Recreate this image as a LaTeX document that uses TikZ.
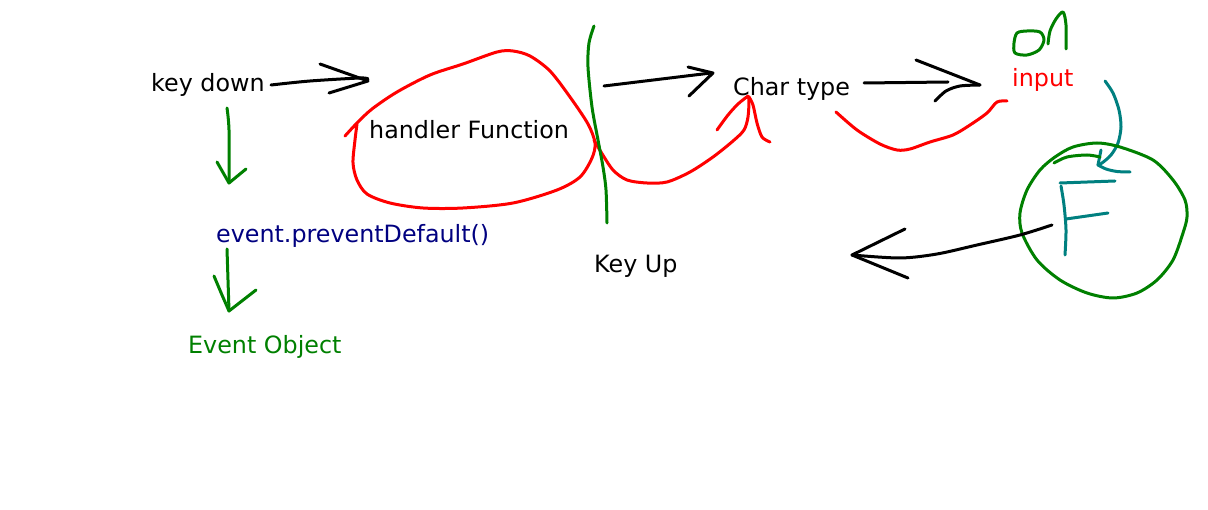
\documentclass[tikz,border=0pt]{standalone}
\usepackage{fontspec}
\setmainfont{DejaVu Sans}
\definecolor{pgreen}{HTML}{008000}
\definecolor{pred}{HTML}{FF0000}
\definecolor{pteal}{HTML}{008080}
\definecolor{pnavy}{HTML}{000080}
\begin{document}
\begin{tikzpicture}[x=1pt,y=-1pt,
  pen/.style={line width=3pt,line cap=round,line join=round},
  lbl/.style={anchor=base west,inner sep=0pt,font=\fontsize{23.8}{28}\selectfont}]
\useasboundingbox (0,0) rectangle (1208,510);
% labels
\node[lbl] (kd) at (151,92) {key down};
\node[lbl] (hf) at (369,139) {handler Function};
\node[lbl,text=pnavy] (pd) at (216,243) {event.preventDefault()};
\node[lbl,text=pgreen] (eo) at (188,354) {Event Object};
\node[lbl] (ku) at (594,273) {Key Up};
\node[lbl] (ct) at (733,96) {Char type};
\node[lbl,text=pred] (in) at (1012,87) {input};
% black arrow key down -> handler
\draw[pen] plot[smooth] coordinates {(271,85) (310,81) (360,78) (368,79)};
\draw[pen] (320,64) -- (368,81) -- (329,93);
% green arrows down
\draw[pen,pgreen] plot[smooth] coordinates {(227,108) (229,130) (229,183)};
\draw[pen,pgreen] (217,162) -- (229,183) -- (246,169);
\draw[pen,pgreen] plot[smooth] coordinates {(227,249) (228,280) (229,311)};
\draw[pen,pgreen] (214,276) -- (222,295) -- (229,311) -- (256,290);
% red loop
\draw[pen,pred] plot[smooth] coordinates {(345,136) (357,123) (372,109) (397,92) (430,75) (463,64) (497,52) (513,51) (530,56) (550,71) (570,97) (588,124) (595,143) (592,158) (580,177) (557,190) (513,203) (463,208) (423,208) (390,203) (367,194) (357,180) (353,163) (355,140) (357,124)};
\draw[pen,pred] plot[smooth] coordinates {(594,140) (601,152) (613,170) (627,180) (647,183) (667,182) (690,172) (713,157) (733,141) (744,130) (748,117) (749,100) (748,96)};
\draw[pen,pred] plot[smooth] coordinates {(748,96) (738,104) (728,115) (717,130)};
\draw[pen,pred] plot[smooth] coordinates {(749,97) (753,105) (757,123) (762,137) (770,142)};
% green vertical line
\draw[pen,pgreen] plot[smooth] coordinates {(594,26) (589,43) (588,67) (592,107) (598,140) (603,167) (606,190) (607,223)};
% black arrow -> Char type
\draw[pen] (604,86) -- (711,73);
\draw[pen] (688,67) -- (713,73) -- (689,96);
% black arrow Char type -> input
\draw[pen] (864,83) -- (948,82);
\draw[pen] (916,60) -- (980,85);
\draw[pen] plot[smooth] coordinates {(935,101) (946,91) (960,86) (980,85)};
% red curve under
\draw[pen,pred] plot[smooth] coordinates {(836,112) (857,130) (880,144) (897,150) (910,149) (930,142) (953,135) (970,125) (987,113) (997,102) (1007,101)};
% green "on"
\draw[pen,pgreen] plot[smooth cycle] coordinates {(1017,33) (1014,43) (1015,53) (1027,55) (1039,50) (1044,40) (1040,32) (1027,31)};
\draw[pen,pgreen] plot[smooth] coordinates {(1048,44) (1050,31) (1056,19) (1063,12) (1066,25) (1066,49)};
% teal arrow into circle
\draw[pen,pteal] plot[smooth] coordinates {(1105,81) (1113,93) (1119,110) (1121,127) (1118,143) (1111,155) (1102,163) (1098,165)};
\draw[pen,pteal] (1101,150) -- (1098,165);
\draw[pen,pteal] plot[smooth] coordinates {(1098,165) (1106,169) (1117,171.5) (1130,172)};
% green circle
\draw[pen,pgreen] plot[smooth cycle] coordinates {(1073,147) (1097,143) (1120,147) (1153,160) (1173,180) (1185,200) (1187,217) (1183,233) (1173,260) (1157,280) (1137,293) (1113,298) (1087,293) (1060,280) (1037,260) (1022,233) (1020,213) (1027,190) (1040,170) (1055,157)};
\draw[pen,pgreen] plot[smooth] coordinates {(1054,163) (1067,157) (1087,155) (1100,157)};
% teal F
\draw[pen,pteal] plot[smooth] coordinates {(1061,186) (1064,205) (1066,230) (1065,255)};
\draw[pen,pteal] (1060,183) -- (1115,181);
\draw[pen,pteal] (1066,219) -- (1108,213);
% black arrow from circle
\draw[pen] plot[smooth] coordinates {(1052,225) (1020,235) (977,245) (937,254) (900,258) (852,255)};
\draw[pen] (905,229) -- (852,255) -- (908,278);
\end{tikzpicture}
\end{document}
